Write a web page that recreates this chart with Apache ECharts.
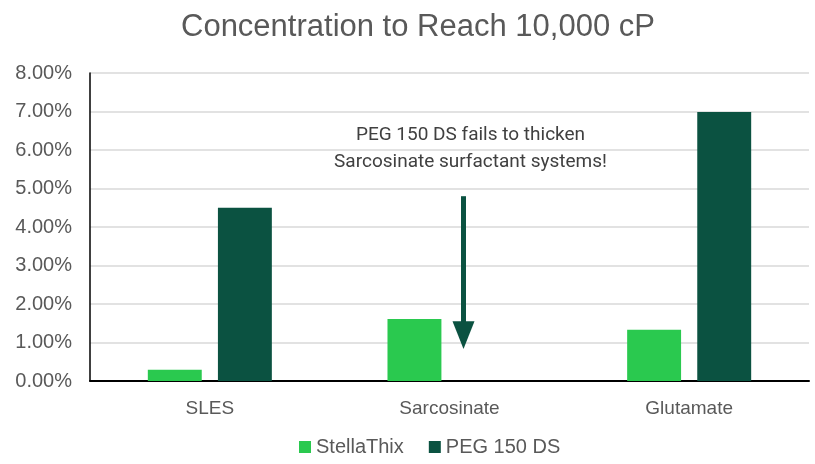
<!DOCTYPE html>
<html>
<head>
<meta charset="utf-8">
<script src="https://cdn.jsdelivr.net/npm/echarts@6/dist/echarts.min.js"></script>
<style>html,body{margin:0;padding:0;background:#fff}#c{width:815px;height:464px}</style>
</head>
<body>
<div id="c"></div>
<script>
var categories = ['SLES', 'Sarcosinate', 'Glutamate'];
var stellaThix = [0.29, 1.61, 1.33];
var peg150ds = [4.50, 0, 6.99];
var seriesNames = ['StellaThix', 'PEG 150 DS'];
var annotationLines = ['PEG 150 DS fails to thicken', 'Sarcosinate surfactant systems!'];

var chart = echarts.init(document.getElementById('c'), null, {renderer: 'canvas'});
var font = '"Liberation Sans", Arial, sans-serif';
chart.setOption({
  animation: false,
  title: {
    text: 'Concentration to Reach 10,000 cP',
    left: 176, top: 7,
    textStyle: {fontFamily: font, fontSize: 31, fontWeight: 'normal', color: '#595959'}
  },
  legend: {
    data: seriesNames, bottom: 2, left: 294,
    itemWidth: 12, itemHeight: 12, itemGap: 25, icon: 'rect',
    textStyle: {fontFamily: font, fontSize: 20, color: '#595959'}
  },
  grid: {left: 90, right: 6, top: 73, bottom: 83, containLabel: false},
  xAxis: {
    type: 'category', data: categories,
    axisLine: {lineStyle: {color: '#000', width: 2}},
    axisTick: {show: false},
    axisLabel: {fontFamily: font, fontSize: 19, color: '#595959', margin: 18}
  },
  yAxis: {
    type: 'value', min: 0, max: 8, interval: 1,
    axisLine: {show: true, lineStyle: {color: '#000', width: 1.5}},
    axisTick: {show: false},
    splitLine: {lineStyle: {color: '#D9D9D9', width: 1.5}},
    axisLabel: {fontFamily: font, fontSize: 20, color: '#595959', margin: 18,
      formatter: function (v) { return v.toFixed(2) + '%'; }}
  },
  series: [
    {name: seriesNames[0], type: 'bar', data: stellaThix, barWidth: '22.5%', barGap: '30%',
      itemStyle: {color: '#2AC94F'}},
    {name: seriesNames[1], type: 'bar', data: peg150ds, barWidth: '22.5%', barGap: '30%',
      itemStyle: {color: '#0B5241'}}
  ]
});

// annotation anchored to data space
var arrowTop = chart.convertToPixel({gridIndex: 0}, [1, 4.8]);
var arrowTip = chart.convertToPixel({gridIndex: 0}, [1, 0.83]);
var headBase = chart.convertToPixel({gridIndex: 0}, [1, 1.55]);
var t1 = chart.convertToPixel({gridIndex: 0}, [1, 6.39]);
var t2 = chart.convertToPixel({gridIndex: 0}, [1, 5.69]);
var ax = arrowTop[0] + 14;
var tx = arrowTop[0] + 21;
chart.setOption({
  graphic: [
    {type: 'line', shape: {x1: ax, y1: arrowTop[1], x2: ax, y2: headBase[1] + 2},
      style: {stroke: '#0B5241', lineWidth: 5}},
    {type: 'polygon', shape: {points: [[ax - 11, headBase[1]], [ax + 11, headBase[1]], [ax, arrowTip[1]]]},
      style: {fill: '#0B5241'}},
    {type: 'text', x: tx, y: t1[1], style: {text: annotationLines[0], fontFamily: 'Roboto, sans-serif',
      fontSize: 19, fill: '#404040', align: 'center', verticalAlign: 'middle'}},
    {type: 'text', x: tx, y: t2[1], style: {text: annotationLines[1], fontFamily: 'Roboto, sans-serif',
      fontSize: 19, fill: '#404040', align: 'center', verticalAlign: 'middle'}}
  ]
});
</script>
</body>
</html>
